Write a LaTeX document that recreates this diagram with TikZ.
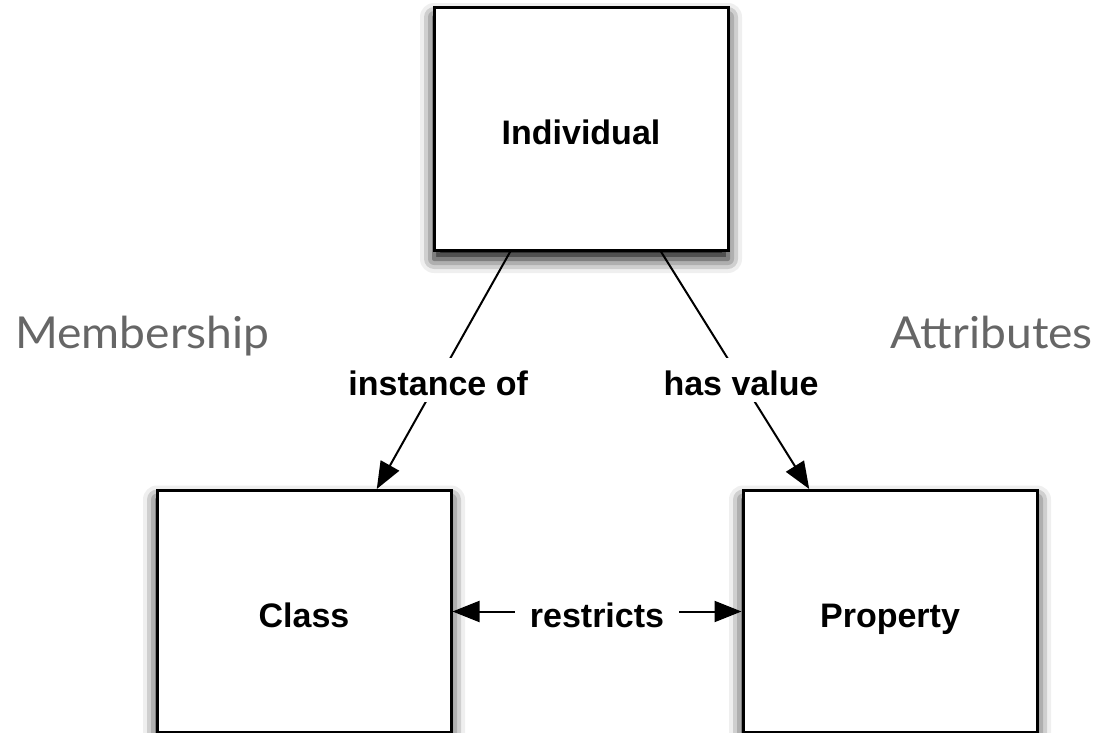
\documentclass[tikz,border=0pt]{standalone}
\usepackage{fontspec}
\setmainfont{Liberation Sans}
\newfontfamily\headfont{Lato}
\usetikzlibrary{arrows.meta,calc,shadows.blur}
\definecolor{headgray}{HTML}{666666}
\begin{document}
\begin{tikzpicture}[x=1pt,y=1pt,
  concept/.style={draw=black, line width=3pt, fill=white,
    minimum width=294pt, minimum height=242pt, inner sep=0pt,
    font=\fontsize{34}{40}\selectfont\bfseries,
    text height=31pt, text depth=0pt,
    blur shadow={shadow xshift=0pt, shadow yshift=-9pt,
      shadow blur radius=14pt, shadow opacity=100}},
  rel/.style={fill=white, font=\fontsize{34}{40}\selectfont\bfseries,
    text height=32pt, text depth=0pt, inner xsep=15pt, inner ysep=6pt},
  link/.style={line width=2pt, -{Triangle[length=27pt,width=21pt]}},
  heading/.style={font=\headfont\fontsize{44}{50}\selectfont,
    text=headgray, inner sep=0pt}]

  % page frame
  \useasboundingbox (0,0) rectangle (1098,-733);

  % the three concepts
  \node[concept] (ind)  at (581,-129)   {Individual};
  \node[concept] (cls)  at (304,-611.5) {Class};
  \node[concept] (prop) at (890,-611.5) {Property};

  % side headings
  \node[heading, anchor=base west] (memb) at (15,-348)
    {\scalebox{1.05}[1]{Membership}};
  \node[heading, anchor=base east] (attr) at (1093,-348)
    {\scalebox{1.05}[1]{Attributes}};

  % relations
  \draw[link] ($(ind.south west)!0.262!(ind.south east)$)
    -- node[rel, pos=0.54] (instof) {instance of}
    ($(cls.north west)!0.745!(cls.north east)$);
  \draw[link] ($(ind.south west)!0.769!(ind.south east)$)
    -- node[rel, pos=0.54] (hasval) {has value}
    ($(prop.north west)!0.228!(prop.north east)$);
  \draw[line width=2pt, {Triangle[length=27pt,width=21pt]}-{Triangle[length=27pt,width=21pt]}]
    (cls.east) -- node[rel] (restr) {restricts} (prop.west);
\end{tikzpicture}
\end{document}
